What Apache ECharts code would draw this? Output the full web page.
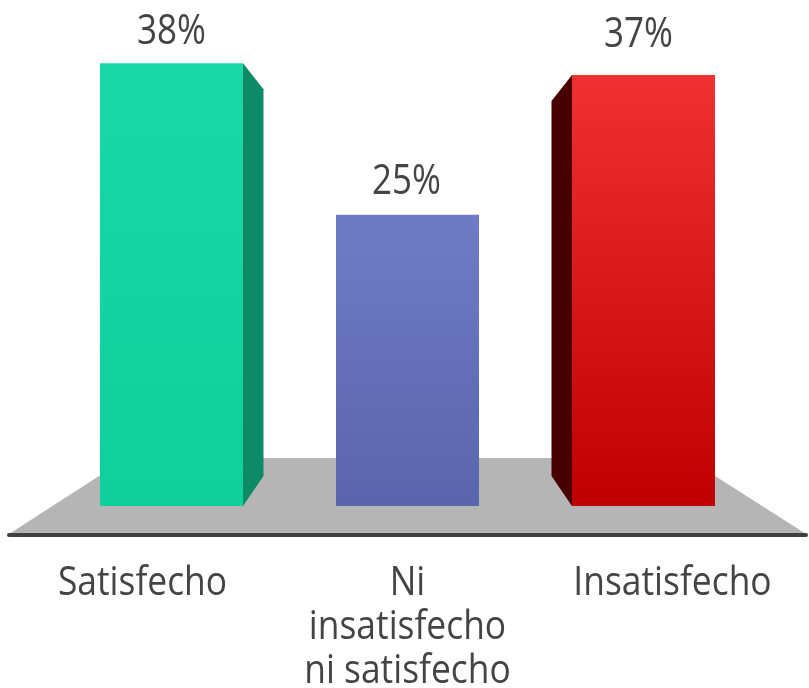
<!DOCTYPE html>
<html><head><meta charset="utf-8">
<style>html,body{margin:0;padding:0;background:#fff}#c{width:809px;height:688px}</style>
<script src="https://cdn.jsdelivr.net/npm/echarts@6/dist/echarts.min.js"></script>
</head><body><div id="c"></div>
<script>
const categories = ['Satisfecho', 'Ni\ninsatisfecho\nni satisfecho', 'Insatisfecho'];
const values = [38, 25, 37];
const topColors = ['#1ad8a5', '#6e7bc6', '#f13131'];
const bottomColors = ['#0fcf9b', '#5966ad', '#bf0000'];
const sideColors = ['#0d8a66', null, '#480000'];
const sideDir = [1, 0, -1];

const chart = echarts.init(document.getElementById('c'), null, {renderer: 'canvas'});
const INK = '#444444';
const FONT = '"Open Sans"';
// hand-placed offsets of the percentage labels in the reference
const labelNudge = [[0, 0], [-1, -2], [-5, -9]];

chart.setOption({
  animation: false,
  backgroundColor: '#fff',
  grid: [
    {left: 53.5, right: 47.5, top: 40, bottom: 182, outerBoundsMode: 'none'},
    {left: 10, right: 4, top: 40, bottom: 182, outerBoundsMode: 'none'}
  ],
  xAxis: [
    {type: 'category', data: categories, gridIndex: 0,
     axisLine: {show: false}, axisTick: {show: false}, axisLabel: {show: false}},
    {type: 'category', data: categories, gridIndex: 1,
     axisLine: {show: false}, axisTick: {show: false}, axisLabel: {show: false}}
  ],
  yAxis: [
    {type: 'value', min: 0, max: 40, show: false, gridIndex: 0},
    {type: 'value', min: 0, max: 40, show: false, gridIndex: 1}
  ],
  series: [
    {
      type: 'custom', z: 1, clip: false, silent: true,
      data: [[0]],
      renderItem(params, api) {
        const g = params.coordSys;
        const base = g.y + g.height;
        return {type: 'group', children: [
          {type: 'polygon', shape: {points: [[127, base - 48], [687, base - 48], [806, base + 28], [9, base + 28]]},
           style: {fill: '#b5b5b5'}},
          {type: 'line', shape: {x1: 9, y1: base + 29, x2: 806, y2: base + 29},
           style: {stroke: '#404040', lineWidth: 4, lineCap: 'round'}}
        ]};
      }
    },
    {
      type: 'custom', z: 2, clip: false, silent: true,
      data: values.map((v, i) => [i, v]),
      renderItem(params, api) {
        const i = params.dataIndex;
        const dir = sideDir[i];
        if (!dir) return {type: 'group', children: []};
        const top = api.coord([api.value(0), api.value(1)]);
        const bot = api.coord([api.value(0), 0]);
        const half = 71.5 * dir;
        const edge = top[0] + half;
        const d = 20.5 * dir;
        return {type: 'polygon',
          shape: {points: [[edge, top[1]], [edge + d, top[1] + 26], [edge + d, bot[1] - 30], [edge, bot[1]]]},
          style: {fill: sideColors[i]}};
      }
    },
    {
      type: 'bar', z: 3, barWidth: 143,
      data: values.map((v, i) => ({
        value: v,
        itemStyle: {color: new echarts.graphic.LinearGradient(0, 0, 0, 1, [
          {offset: 0, color: topColors[i]}, {offset: 1, color: bottomColors[i]}])}
      }))
    },
    {
      // percentage labels, stretched vertically like the reference
      type: 'custom', z: 4, clip: false, silent: true,
      data: values.map((v, i) => [i, v]),
      renderItem(params, api) {
        const p = api.coord([api.value(0), api.value(1)]);
        const n = labelNudge[params.dataIndex];
        return {type: 'text', x: p[0] + n[0], y: p[1] - 10 + n[1], scaleY: 1.2,
          style: {text: api.value(1) + '%', fill: INK, font: '35px ' + FONT,
            textAlign: 'center', textVerticalAlign: 'bottom'}};
      }
    },
    {
      // category labels on the wider floor-length grid
      type: 'custom', z: 4, clip: false, silent: true,
      xAxisIndex: 1, yAxisIndex: 1,
      data: categories.map((c, i) => [i, 0]),
      renderItem(params, api) {
        const p = api.coord([api.value(0), 0]);
        return {type: 'text', x: p[0], y: p[1] + 56, scaleY: 1.15,
          style: {text: categories[params.dataIndex], fill: INK, font: '35.4px ' + FONT,
            lineHeight: 38, textAlign: 'center', textVerticalAlign: 'top'}};
      }
    }
  ]
});
</script></body></html>
